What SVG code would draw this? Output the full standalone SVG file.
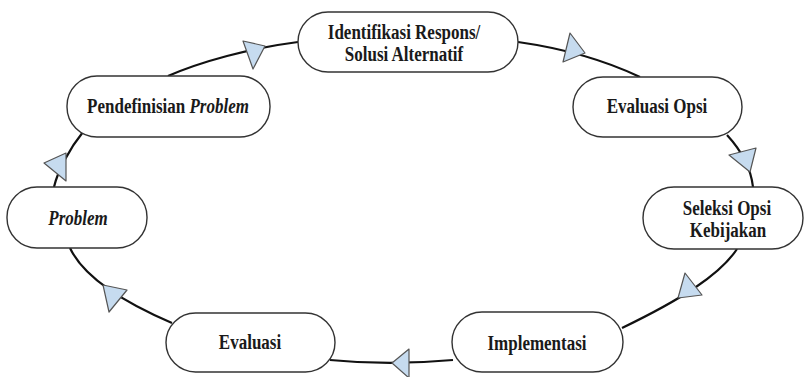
<svg xmlns="http://www.w3.org/2000/svg" width="805" height="377" viewBox="0 0 805 377">
<style>
.node{fill:#fff;stroke:#333;stroke-width:1.4}
.lbl{font-family:"Liberation Serif","Times New Roman",serif;font-weight:bold;font-size:20px;fill:#1a1a1a;text-anchor:middle}
.it{font-style:italic}
.conn{fill:none;stroke:#111;stroke-width:2.2}
.tri{fill:#c6dbef;stroke:#555;stroke-width:1.2;stroke-linejoin:round}
</style>
<rect width="805" height="377" fill="#fff"/>
<g id="connectors">
<path class="conn" d="M168,76 C200,62 250,48 298,42"/>
<path class="conn" d="M518,42 C560,48 600,58 640,77"/>
<path class="conn" d="M727,135 Q750,160 753,187"/>
<path class="conn" d="M737,249 C720,275 680,300 622,328"/>
<path class="conn" d="M453,360 C420,363 380,365 330,360"/>
<path class="conn" d="M172,323 C130,305 85,280 70,248"/>
<path class="conn" d="M54,187 C58,170 70,148 83,132"/>
<polygon class="tri" points="243,41 265,46 253,69"/>
<polygon class="tri" points="570,33 585,53 563,62"/>
<polygon class="tri" points="729,155 756,148 750,172"/>
<polygon class="tri" points="685,273 702,295 678,298"/>
<polygon class="tri" points="409,349 392,363 409,378"/>
<polygon class="tri" points="103,285 127,290 109,312"/>
<polygon class="tri" points="44,163 66,153 66,181"/>
</g>
<g id="n-identifikasi">
<rect class="node" x="298" y="12" width="220" height="60" rx="30"/>
<text class="lbl" transform="translate(404,39) scale(0.85,1)">Identifikasi Respons/</text>
<text class="lbl" transform="translate(404,61) scale(0.85,1)">Solusi Alternatif</text>
</g>
<g id="n-pendefinisian">
<rect class="node" x="67" y="76" width="203" height="61" rx="30"/>
<text class="lbl" transform="translate(168,113) scale(0.85,1)">Pendefinisian <tspan class="it">Problem</tspan></text>
</g>
<g id="n-problem">
<rect class="node" x="7" y="187" width="140" height="61" rx="30"/>
<text class="lbl it" transform="translate(78,225) scale(0.85,1)">Problem</text>
</g>
<g id="n-evaluasi-opsi">
<rect class="node" x="573" y="77" width="169" height="60" rx="30"/>
<text class="lbl" transform="translate(657,113) scale(0.85,1)">Evaluasi Opsi</text>
</g>
<g id="n-seleksi">
<rect class="node" x="643" y="187" width="160" height="62" rx="31"/>
<text class="lbl" transform="translate(727,215) scale(0.85,1)">Seleksi Opsi</text>
<text class="lbl" transform="translate(728,237) scale(0.85,1)">Kebijakan</text>
</g>
<g id="n-implementasi">
<rect class="node" x="452" y="312" width="171" height="60" rx="30"/>
<text class="lbl" transform="translate(537,350) scale(0.85,1)">Implementasi</text>
</g>
<g id="n-evaluasi">
<rect class="node" x="166" y="313" width="169" height="59" rx="29.5"/>
<text class="lbl" transform="translate(250,349) scale(0.85,1)">Evaluasi</text>
</g>
</svg>
